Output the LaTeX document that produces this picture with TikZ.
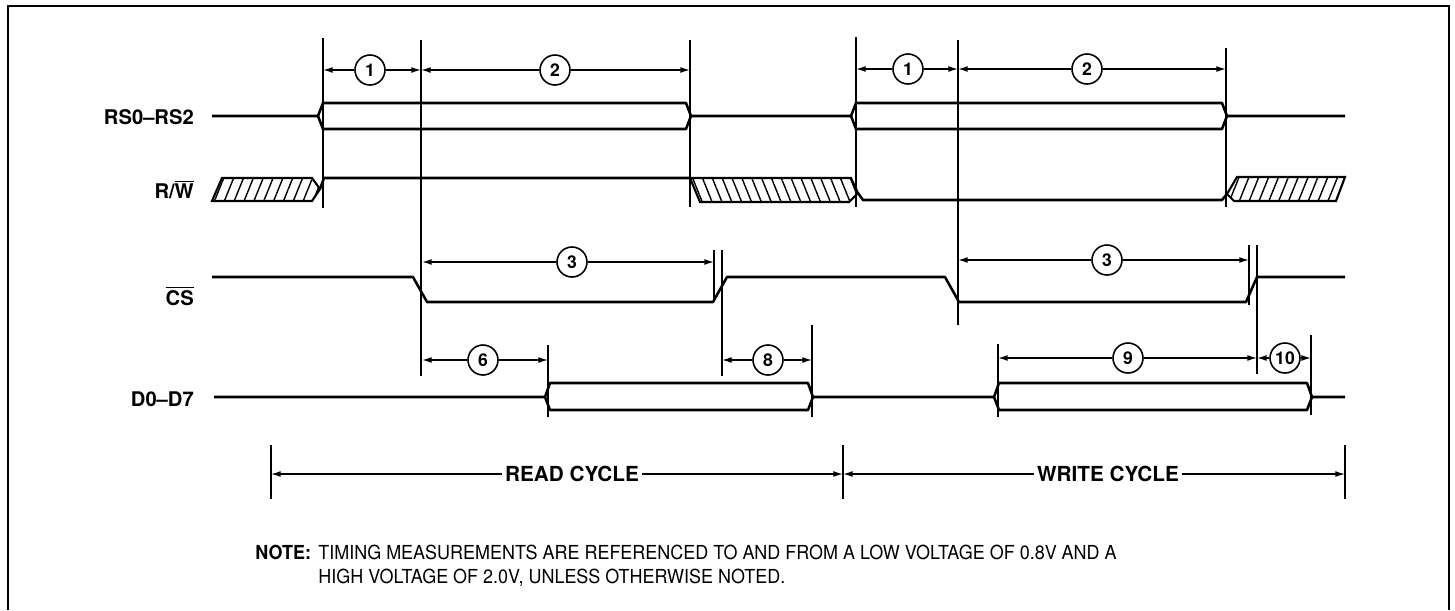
\documentclass[tikz,border=0pt]{standalone}
\usepackage{fontspec}
\setmainfont{TeX Gyre Heros}
\usetikzlibrary{arrows.meta, patterns.meta}

\tikzset{
  sig/.style={line width=1.45pt, line join=round},
  refline/.style={line width=1pt},
  dimline/.style={line width=0.8pt, -{Latex[length=5.5pt, width=3.4pt]}},
  tnum/.style={draw, circle, line width=0.9pt, minimum size=0.6cm, inner sep=0pt,
    font=\fontsize{10}{11}\selectfont\bfseries},
  siglabel/.style={anchor=east, font=\fontsize{11.5}{13}\selectfont\bfseries},
  cyclelabel/.style={inner sep=1.5pt, font=\fontsize{11.8}{13}\selectfont\bfseries},
  hatchR/.style={line width=1.2pt, pattern={Lines[angle=68, distance=5.2pt, line width=0.8pt]}},
  hatchL/.style={line width=1.2pt, pattern={Lines[angle=-68, distance=5.2pt, line width=0.8pt]}},
}

\begin{document}
\begin{tikzpicture}[x=0.02cm, y=-0.02cm]
  \useasboundingbox (0,0) rectangle (1455,610);
  \draw[line width=1.4pt] (8,610) -- (8,6) -- (1449,6) -- (1449,610);

  % signal names
  \node[siglabel] (lrs) at (200,117) {RS0–RS2};
  \node[siglabel] (lrw) at (200,190) {R/$\overline{\mbox{W}}$};
  \node[siglabel] (lcs) at (200,296) {$\overline{\mbox{CS}}$};
  \node[siglabel] (ldb) at (200,399) {D0–D7};

  % RS0-RS2
  \draw[sig] (212,116) -- (318,116) -- (323,103) -- (686,103) -- (691,116) -- (851,116)
    -- (856,103) -- (1222,103) -- (1227,116) -- (1345,116);
  \draw[sig] (318,116) -- (323,129) -- (686,129) -- (691,116);
  \draw[sig] (851,116) -- (856,129) -- (1222,129) -- (1227,116);

  % R/W
  \draw[hatchR] (222,178) -- (312,178) -- (320,189) -- (312,201) -- (212,201) -- cycle;
  \draw[sig] (320,189) -- (324,178) -- (690,178);
  \draw[hatchL] (690,178) -- (851,178) -- (858,193) -- (849,202) -- (700,202) -- cycle;
  \draw[sig] (858,193) -- (863,200) -- (1222,200) -- (1227,194);
  \draw[hatchR] (1227,194) -- (1237,177) -- (1345,177) -- (1336,201) -- (1234,201) -- cycle;

  % CS
  \draw[sig] (212,277) -- (413,277) -- (427,302) -- (713,302) -- (727,277) -- (945,277)
    -- (959,302) -- (1246,302) -- (1257,277) -- (1345,277);

  % D0-D7
  \draw[sig] (214,397) -- (545,397) -- (550,383) -- (808,383) -- (813,397) -- (994,397)
    -- (999,383) -- (1307,383) -- (1312,397) -- (1345,397);
  \draw[sig] (545,397) -- (550,410) -- (808,410) -- (813,397);
  \draw[sig] (994,397) -- (999,410) -- (1307,410) -- (1312,397);

  % reference lines
  \foreach \x/\ya/\yb in {323/38/208, 421/40/376, 690/40/207, 714/250/301, 722/250/376,
      548/345/417, 812/325/417, 271/445/499, 843/445/499, 856/37/207, 958/40/325,
      1226/48/207, 1249/245/305, 1257/245/374, 998/344/417, 1311/335/415, 1345/445/499}
    \draw[refline] (\x,\ya) -- (\x,\yb);

  % timing intervals
  \foreach \i/\n/\xa/\xc/\xb/\y in {a/1/323/370/421/70, b/2/421/555/690/70,
      c/3/422/572/714/262, d/6/422/483/548/360, e/8/722/768/812/360,
      f/1/856/908/958/69, g/2/958/1087/1226/69, h/3/958/1107/1249/260,
      k/9/998/1128/1257/358, m/10/1257/1285/1311/358} {
    \node[tnum] (t\i) at (\xc,\y) {\n};
    \coordinate (s\i) at (\xa,\y);
    \coordinate (e\i) at (\xb,\y);
    \draw[dimline] (t\i) -- (s\i);
    \draw[dimline] (t\i) -- (e\i);
  }

  % cycles
  \node[cyclelabel] (rcyc) at (572,474) {READ CYCLE};
  \node[cyclelabel] (wcyc) at (1108,474) {WRITE CYCLE};
  \coordinate (rc1) at (271,474);
  \coordinate (rc2) at (843,474);
  \coordinate (wc2) at (1345,474);
  \draw[dimline] (rcyc) -- (rc1);
  \draw[dimline] (rcyc) -- (rc2);
  \draw[dimline] (wcyc) -- (rc2);
  \draw[dimline] (wcyc) -- (wc2);

  % note
  \node[anchor=base west, inner sep=0pt, font=\fontsize{11}{13}\selectfont\bfseries] (note) at (255,559) {\scalebox{0.93}[1]{NOTE:}};
  \node[anchor=base west, inner sep=0pt, font=\fontsize{11}{13}\selectfont] (note1) at (318,559)
    {\scalebox{0.93}[1]{TIMING MEASUREMENTS ARE REFERENCED TO AND FROM A LOW VOLTAGE OF 0.8V AND A}};
  \node[anchor=base west, inner sep=0pt, font=\fontsize{11}{13}\selectfont] (note2) at (318,583)
    {\scalebox{0.93}[1]{HIGH VOLTAGE OF 2.0V, UNLESS OTHERWISE NOTED.}};
\end{tikzpicture}
\end{document}
